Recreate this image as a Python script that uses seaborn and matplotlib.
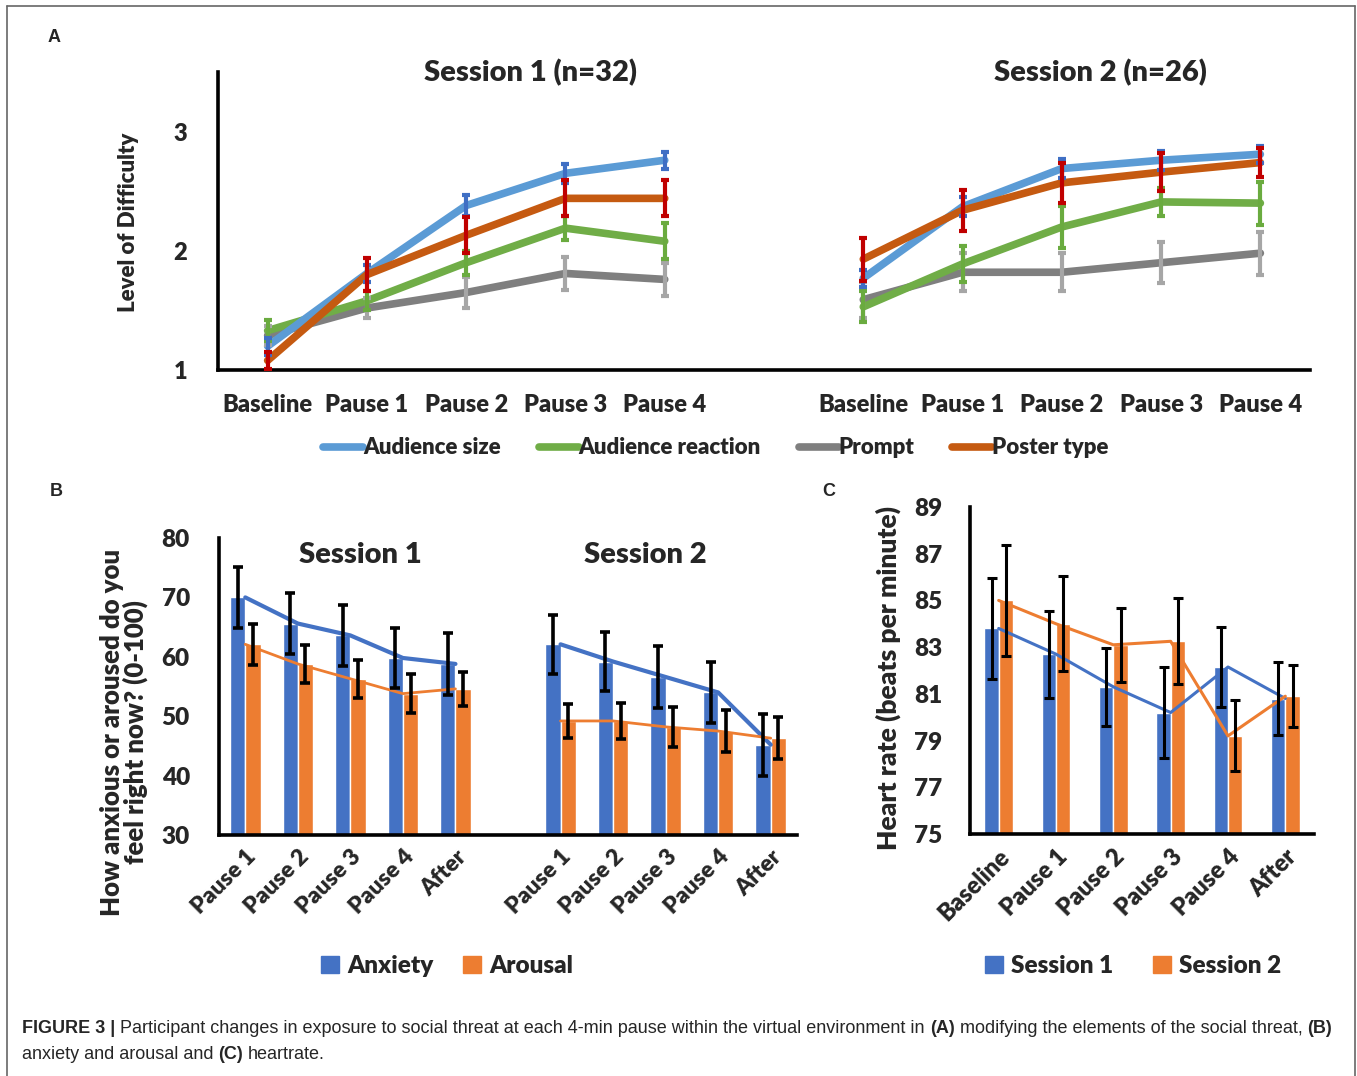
import matplotlib
matplotlib.use("Agg")
import numpy as np
import pandas as pd
import matplotlib.pyplot as plt
import seaborn as sns
from matplotlib.lines import Line2D
from matplotlib.patches import Patch

# ---- Panel A: level of difficulty per element of the social threat ----
a_steps = ["Baseline", "Pause 1", "Pause 2", "Pause 3", "Pause 4"]
a_factors = ["Audience size", "Audience reaction", "Prompt", "Poster type"]
a_titles = ["Session 1 (n=32)", "Session 2 (n=26)"]

a_s1_size = [1.20, 1.81, 2.38, 2.65, 2.76]
a_s1_size_err = [0.07, 0.07, 0.09, 0.08, 0.07]
a_s1_reaction = [1.33, 1.58, 1.90, 2.19, 2.08]
a_s1_reaction_err = [0.09, 0.08, 0.10, 0.10, 0.15]
a_s1_prompt = [1.29, 1.52, 1.65, 1.81, 1.76]
a_s1_prompt_err = [0.08, 0.08, 0.13, 0.14, 0.14]
a_s1_poster = [1.08, 1.80, 2.13, 2.44, 2.44]
a_s1_poster_err = [0.07, 0.14, 0.15, 0.15, 0.15]

a_s2_size = [1.77, 2.37, 2.69, 2.76, 2.81]
a_s2_size_err = [0.07, 0.08, 0.08, 0.08, 0.07]
a_s2_reaction = [1.53, 1.89, 2.20, 2.41, 2.40]
a_s2_reaction_err = [0.13, 0.15, 0.18, 0.12, 0.18]
a_s2_prompt = [1.59, 1.82, 1.82, 1.90, 1.98]
a_s2_prompt_err = [0.15, 0.16, 0.16, 0.17, 0.18]
a_s2_poster = [1.93, 2.34, 2.57, 2.66, 2.74]
a_s2_poster_err = [0.18, 0.17, 0.17, 0.16, 0.12]

# ---- Panel B: anxiety and arousal ----
b_steps = ["Pause 1", "Pause 2", "Pause 3", "Pause 4", "After"]
b_measures = ["Anxiety", "Arousal"]
b_titles = ["Session 1", "Session 2"]
b_s1_anxiety = [70.0, 65.6, 63.6, 59.8, 58.8]
b_s1_anxiety_err = [5.1, 5.2, 5.2, 5.1, 5.2]
b_s1_arousal = [62.1, 58.8, 56.3, 53.8, 54.6]
b_s1_arousal_err = [3.5, 3.2, 3.2, 3.3, 2.9]
b_s2_anxiety = [62.1, 59.2, 56.6, 54.0, 45.2]
b_s2_anxiety_err = [5.0, 5.0, 5.2, 5.1, 5.2]
b_s2_arousal = [49.2, 49.2, 48.2, 47.5, 46.3]
b_s2_arousal_err = [2.9, 3.0, 3.4, 3.5, 3.5]

# ---- Panel C: heart rate ----
c_steps = ["Baseline", "Pause 1", "Pause 2", "Pause 3", "Pause 4", "After"]
c_sessions = ["Session 1", "Session 2"]
c_s1 = [83.8, 82.7, 81.3, 80.2, 82.15, 80.8]
c_s1_err = [2.16, 1.86, 1.68, 1.93, 1.71, 1.57]
c_s2 = [85.0, 84.0, 83.1, 83.25, 79.2, 80.9]
c_s2_err = [2.37, 2.03, 1.59, 1.84, 1.52, 1.32]

# colours
a_line_col = {"Audience size": "#5b9bd5", "Audience reaction": "#70ad47",
              "Prompt": "#7f7f7f", "Poster type": "#c55a11"}
a_err_col = {"Audience size": "#3f6fc4", "Audience reaction": "#6aab3f",
             "Prompt": "#a6a6a6", "Poster type": "#c00000"}
blue, orange = "#4472c4", "#ed7d31"

sns.set_style("white")
plt.rcParams["font.family"] = ["Lato", "DejaVu Sans"]
plt.rcParams["font.weight"] = "heavy"
BW = "heavy"

W, H = 1357, 1076
fig = plt.figure(figsize=(W / 100, H / 100), dpi=100)


def rect(x0, y0, x1, y1):
    # pixel box (top-left origin) -> figure fraction
    return [x0 / W, 1 - y1 / H, (x1 - x0) / W, (y1 - y0) / H]


def style_axis(ax):
    sns.despine(ax=ax)
    for s in ["left", "bottom"]:
        ax.spines[s].set_linewidth(2.6)
        ax.spines[s].set_color("black")
    ax.tick_params(length=0)
    ax.grid(False)


# ================= Panel A =================
rows = []
a_data = {1: [(a_s1_size, a_s1_size_err), (a_s1_reaction, a_s1_reaction_err),
              (a_s1_prompt, a_s1_prompt_err), (a_s1_poster, a_s1_poster_err)],
          2: [(a_s2_size, a_s2_size_err), (a_s2_reaction, a_s2_reaction_err),
              (a_s2_prompt, a_s2_prompt_err), (a_s2_poster, a_s2_poster_err)]}
for sess, series in a_data.items():
    for f, (vals, errs) in zip(a_factors, series):
        for i, step in enumerate(a_steps):
            rows.append({"session": sess, "factor": f, "step": step,
                         "pos": i + (sess - 1) * 6, "value": vals[i], "err": errs[i]})
dfa = pd.DataFrame(rows)

axA = fig.add_axes(rect(218, 72, 1310, 370))
for f in ["Prompt", "Audience reaction", "Audience size", "Poster type"]:
    sub = dfa[dfa["factor"] == f]
    sns.lineplot(data=sub, x="pos", y="value", units="session", estimator=None,
                 color=a_line_col[f], linewidth=5.5, solid_capstyle="round", ax=axA)
    axA.errorbar(sub["pos"], sub["value"], yerr=sub["err"], fmt="none",
                 ecolor=a_err_col[f], elinewidth=3, capsize=3, capthick=3, zorder=3)
axA.set_xlim(-0.5, 10.5)
axA.set_ylim(1, 3.5)
axA.set_yticks([1, 2, 3])
axA.set_xticks(list(range(5)) + list(range(6, 11)))
axA.set_xticklabels(a_steps + a_steps, fontweight=BW)
axA.set_yticklabels(["1", "2", "3"], fontweight=BW)
style_axis(axA)
axA.tick_params(axis="x", pad=17, labelsize=17)
axA.tick_params(axis="y", pad=22, labelsize=17)
axA.set_xlabel("")
axA.set_ylabel("Level of Difficulty", fontsize=16, fontweight=BW)
axA.yaxis.set_label_coords(-0.072, 0.497)
for k, t in enumerate(a_titles):
    axA.text([0.286, 0.808][k], 0.997, t, transform=axA.transAxes, ha="center",
             va="center", fontsize=21, fontweight=BW)
fig.legend(handles=[Line2D([], [], color=a_line_col[f], lw=5.5) for f in a_factors],
           labels=a_factors, loc="center", bbox_to_anchor=(716 / W, 1 - 448 / H),
           ncol=4, frameon=False, handlelength=1.8, handletextpad=0.0,
           columnspacing=1.7, prop={"size": 16, "weight": BW})

# ================= Panel B =================
rows = []
b_data = {1: [(b_s1_anxiety, b_s1_anxiety_err), (b_s1_arousal, b_s1_arousal_err)],
          2: [(b_s2_anxiety, b_s2_anxiety_err), (b_s2_arousal, b_s2_arousal_err)]}
for sess, series in b_data.items():
    for m, (vals, errs) in zip(b_measures, series):
        for i, step in enumerate(b_steps):
            rows.append({"session": sess, "measure": m, "step": step,
                         "pos": i + (sess - 1) * 6, "value": vals[i], "err": errs[i]})
dfb = pd.DataFrame(rows)

b_width = 0.58
axB = fig.add_axes(rect(219, 538, 797, 835))
sns.barplot(data=dfb, x="pos", y="value", hue="measure", hue_order=b_measures,
            native_scale=True, width=b_width, palette=[blue, orange], saturation=1,
            errorbar=None, legend=False, ax=axB)
for k, m in enumerate(b_measures):
    sub = dfb[dfb["measure"] == m]
    off = (k - 0.5) * b_width / 2
    axB.errorbar(sub["pos"] + off, sub["value"], yerr=sub["err"], fmt="none",
                 ecolor="black", elinewidth=2.6, capsize=3.5, capthick=2.6, zorder=4)
for m, col, lw in [("Anxiety", blue, 3.0), ("Arousal", orange, 2.0)]:
    sns.lineplot(data=dfb[dfb["measure"] == m], x="pos", y="value", units="session",
                 estimator=None, color=col, linewidth=lw, ax=axB, zorder=3)
axB.set_xlim(-0.5, 10.5)
axB.set_ylim(30, 80)
axB.set_yticks(range(30, 81, 10))
axB.set_yticklabels([str(v) for v in range(30, 81, 10)], fontweight=BW)
axB.set_xticks(list(range(5)) + list(range(6, 11)))
axB.set_xticklabels(b_steps + b_steps, rotation=45, ha="right", rotation_mode="anchor",
                    fontweight=BW)
style_axis(axB)
axB.tick_params(axis="x", pad=8, labelsize=16.5)
axB.tick_params(axis="y", pad=21, labelsize=17.5)
axB.set_xlabel("")
axB.set_ylabel("How anxious or aroused do you\nfeel right now? (0-100)",
               fontsize=18.5, fontweight=BW, linespacing=0.95)
axB.yaxis.set_label_coords(-0.122, 0.347)
for k, t in enumerate(b_titles):
    axB.text([0.244, 0.737][k], 0.943, t, transform=axB.transAxes, ha="center",
             va="center", fontsize=21, fontweight=BW)
fig.legend(handles=[Patch(color=blue), Patch(color=orange)], labels=b_measures,
           loc="center", bbox_to_anchor=(447 / W, 1 - 966 / H), ncol=2, frameon=False,
           handlelength=0.75, handleheight=0.75, handletextpad=0.35, columnspacing=1.2,
           prop={"size": 17.5, "weight": BW})

# ================= Panel C =================
rows = []
for s, vals, errs in [(c_sessions[0], c_s1, c_s1_err), (c_sessions[1], c_s2, c_s2_err)]:
    for i, step in enumerate(c_steps):
        rows.append({"session": s, "step": step, "pos": i, "value": vals[i], "err": errs[i]})
dfc = pd.DataFrame(rows)

c_width = 0.5
axC = fig.add_axes(rect(970, 507, 1314, 834))
sns.barplot(data=dfc, x="pos", y="value", hue="session", hue_order=c_sessions,
            native_scale=True, width=c_width, palette=[blue, orange], saturation=1,
            errorbar=None, legend=False, ax=axC)
for k, s in enumerate(c_sessions):
    sub = dfc[dfc["session"] == s]
    off = (k - 0.5) * c_width / 2
    axC.errorbar(sub["pos"] + off, sub["value"], yerr=sub["err"], fmt="none",
                 ecolor="black", elinewidth=2.2, capsize=3.5, capthick=2.2, zorder=4)
    sns.lineplot(data=sub, x="pos", y="value", color=[blue, orange][k],
                 linewidth=2.2, ax=axC, zorder=3)
axC.set_xlim(-0.5, 5.5)
axC.set_ylim(75, 89)
axC.set_yticks(range(75, 90, 2))
axC.set_yticklabels([str(v) for v in range(75, 90, 2)], fontweight=BW)
axC.set_xticks(range(6))
axC.set_xticklabels(c_steps, rotation=45, ha="right", rotation_mode="anchor",
                    fontweight=BW)
style_axis(axC)
axC.tick_params(axis="x", pad=8, labelsize=17)
axC.tick_params(axis="y", pad=20, labelsize=17.5)
axC.set_xlabel("")
axC.set_ylabel("Heart rate (beats per minute)", fontsize=19, fontweight=BW)
axC.yaxis.set_label_coords(-0.2, 0.477)
fig.legend(handles=[Patch(color=blue), Patch(color=orange)], labels=c_sessions,
           loc="center", bbox_to_anchor=(1133 / W, 1 - 966 / H), ncol=2, frameon=False,
           handlelength=0.75, handleheight=0.75, handletextpad=0.35, columnspacing=1.6,
           prop={"size": 17.5, "weight": BW})

# panel letters
for letter, (px, py) in zip("ABC", [(48, 37), (50, 492), (822, 492)]):
    fig.text(px / W, 1 - py / H, letter, family="Liberation Sans", fontweight="bold",
             fontsize=13, ha="left", va="center")

# frame around the figure
for xs, ys in [([7, 7], [H, 6]), ([7, 1355], [6, 6]), ([1355, 1355], [6, H])]:
    fig.add_artist(Line2D([x / W for x in xs], [1 - y / H for y in ys],
                          transform=fig.transFigure, color="#666666", lw=1.2))

# caption with bold and normal parts
renderer = fig.canvas.get_renderer()
cap_lines = [
    [("FIGURE 3 |", True),
     ("Participant changes in exposure to social threat at each 4-min pause within the virtual environment in", False),
     ("(A)", True), ("modifying the elements of the social threat,", False), ("(B)", True)],
    [("anxiety and arousal and", False), ("(C)", True), ("heartrate.", False)],
]


def text_width(s, size, bold):
    t = fig.text(0, 0, s, fontsize=size, family="Liberation Sans",
                 fontweight="bold" if bold else "normal")
    w = t.get_window_extent(renderer).width
    t.remove()
    return w


def space_width(size, bold):
    return text_width("a a", size, bold) - text_width("aa", size, bold)


base = 12
line1 = sum(text_width(s, base, b) for s, b in cap_lines[0]) + \
    sum(space_width(base, b) for s, b in cap_lines[0][:-1])
cap_size = base * (1333 - 22) / line1

for (chunks, by) in zip(cap_lines, [1033, 1059]):
    x = 22
    for s, b in chunks:
        t = fig.text(x / W, 1 - by / H, s, fontsize=cap_size, family="Liberation Sans",
                     fontweight="bold" if b else "normal", va="baseline", ha="left")
        x += t.get_window_extent(renderer).width + space_width(cap_size, b)

fig.savefig("out.png", dpi=100)
